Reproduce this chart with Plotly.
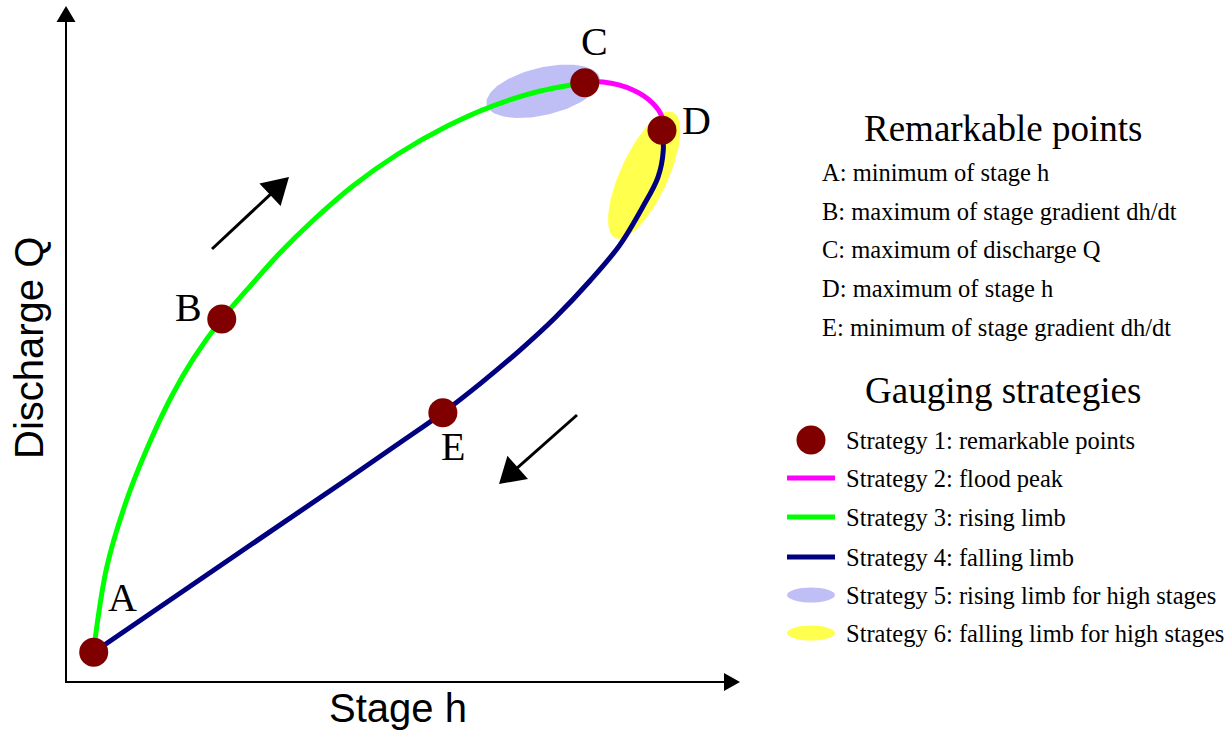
import numpy as np
import plotly.graph_objects as go

# ---------------------------------------------------------------------------
# Hysteresis loop of a rating curve (stage h vs discharge Q), arbitrary units
# ---------------------------------------------------------------------------
point_names = ["A", "B", "C", "D", "E"]
point_h = [4.2, 23.6, 78.6, 90.3, 57.1]
point_q = [4.5, 55.0, 90.8, 83.6, 40.8]

# Strategy 3: rising limb (A -> B -> C)
rising_h = [4.2, 4.4, 6.2, 9.2, 12.2, 16.0, 19.3, 23.6, 27.4, 32.4, 37.5,
            43.5, 50.3, 57.7, 64.7, 71.7, 78.6]
rising_q = [4.5, 6.4, 17.5, 27.6, 35.2, 43.3, 49.0, 55.0, 59.4, 65.0, 70.0,
            75.2, 80.0, 84.2, 87.3, 89.5, 90.8]

# Strategy 2: flood peak (C -> D)
peak_h = [78.6, 81.4, 85.9, 88.9, 90.3, 90.3]
peak_q = [90.8, 90.9, 89.7, 87.7, 85.6, 83.6]

# Strategy 4: falling limb (D -> E -> A)
falling_h = [90.3, 90.5, 89.7, 87.4, 83.9, 79.4, 74.1, 68.8, 63.0, 57.1,
             50.8, 42.7, 26.4, 4.2]
falling_q = [83.6, 80.6, 76.5, 72.0, 66.2, 60.8, 55.2, 50.3, 45.4, 40.8,
             36.4, 30.8, 19.7, 4.5]

# Strategies 5 and 6: zones around the high stages (center, semi-axes, tilt in degrees)
rising_zone = dict(h=72.3, q=89.5, a=8.8, b=3.6, angle=13.4)
falling_zone = dict(h=87.6, q=76.8, a=10.5, b=3.6, angle=65.3)

remarkable_title = "Remarkable points"
remarkable_items = [
    "A: minimum of stage h",
    "B: maximum of stage gradient dh/dt",
    "C: maximum of discharge Q",
    "D: maximum of stage h",
    "E: minimum of stage gradient dh/dt",
]
strategy_title = "Gauging strategies"
strategy_items = [
    "Strategy 1: remarkable points",
    "Strategy 2: flood peak",
    "Strategy 3: rising limb",
    "Strategy 4: falling limb",
    "Strategy 5: rising limb for high stages",
    "Strategy 6: falling limb for high stages",
]

# ---------------------------------------------------------------------------
# Styling and layout helpers
# ---------------------------------------------------------------------------
W, H = 1232, 731
UNIT = 6.6                 # pixels per data unit on both axes
ORIGIN = (66, 682)         # pixel position of (h=0, Q=0)

SERIF = "Liberation Serif"
SANS = "Liberation Sans"
GREEN = "#00ff00"
MAGENTA = "#ff00ff"
NAVY = "#000080"
MAROON = "#800000"
LAVENDER = "#bfbff6"
YELLOW = "#ffff4d"


def fx(px):
    return px / W


def fy(py):
    return 1 - py / H


def ellipse(zone, n=120):
    t = np.linspace(0, 2 * np.pi, n)
    th = np.radians(zone["angle"])
    x = zone["h"] + zone["a"] * np.cos(t) * np.cos(th) - zone["b"] * np.sin(t) * np.sin(th)
    y = zone["q"] + zone["a"] * np.cos(t) * np.sin(th) + zone["b"] * np.sin(t) * np.cos(th)
    return x, y


def arrow_shapes(x0, y0, x1, y1, lw, head_len, head_w):
    """Line plus filled triangular head, given in pixel coordinates."""
    d = np.array([x1 - x0, y1 - y0], dtype=float)
    L = np.hypot(*d)
    u = d / L
    n = np.array([-u[1], u[0]])
    base = np.array([x1, y1]) - u * head_len
    p1 = base + n * head_w / 2
    p2 = base - n * head_w / 2
    line_end = np.array([x1, y1]) - u * head_len * 0.6
    path = (f"M {fx(x1)},{fy(y1)} L {fx(p1[0])},{fy(p1[1])} "
            f"L {fx(p2[0])},{fy(p2[1])} Z")
    return [
        dict(type="line", xref="paper", yref="paper",
             x0=fx(x0), y0=fy(y0), x1=fx(line_end[0]), y1=fy(line_end[1]),
             line=dict(color="black", width=lw)),
        dict(type="path", xref="paper", yref="paper", path=path,
             fillcolor="black", line=dict(color="black", width=0)),
    ]


def text(px, py, s, size, family=SERIF, xanchor="center", angle=0):
    return dict(x=fx(px), y=fy(py), xref="paper", yref="paper", text=s,
                showarrow=False, xanchor=xanchor, yanchor="middle",
                textangle=angle,
                font=dict(family=family, size=size, color="black"))


fig = go.Figure()

# Shaded zones
for zone, color in [(rising_zone, LAVENDER), (falling_zone, YELLOW)]:
    ex, ey = ellipse(zone)
    fig.add_trace(go.Scatter(x=ex, y=ey, mode="lines", fill="toself",
                             fillcolor=color, line=dict(width=0),
                             hoverinfo="skip"))

# Limbs of the loop
for hs, qs, color in [(rising_h, rising_q, GREEN),
                      (peak_h, peak_q, MAGENTA),
                      (falling_h, falling_q, NAVY)]:
    fig.add_trace(go.Scatter(x=hs, y=qs, mode="lines",
                             line=dict(color=color, width=5, shape="spline",
                                       smoothing=1.0)))

# Remarkable points
fig.add_trace(go.Scatter(x=point_h, y=point_q, mode="markers",
                         marker=dict(size=29, color=MAROON, line=dict(width=0))))

annotations = []

# Point labels, offset in pixels from each point
label_shift = {"A": (29, 55), "B": (-33, 12), "C": (10, 41), "D": (35, 10), "E": (10, -34)}
for name, h, q in zip(point_names, point_h, point_q):
    dx, dy = label_shift[name]
    annotations.append(dict(x=h, y=q, xref="x", yref="y", text=name,
                            showarrow=False, xshift=dx, yshift=dy,
                            xanchor="center", yanchor="middle",
                            font=dict(family=SERIF, size=40, color="black")))

# Axis titles
annotations.append(text(398, 708, "Stage h", 40, family=SANS))
annotations.append(text(29, 348, "Discharge Q", 40, family=SANS, angle=-90))

# Right-hand key: remarkable points
annotations.append(text(1003, 128, remarkable_title, 37))
for txt, y in zip(remarkable_items, [172, 211, 250, 288, 327]):
    annotations.append(text(820, y, txt, 24.5, xanchor="left"))

# Right-hand key: gauging strategies
annotations.append(text(1003, 390, strategy_title, 37))
row_y = [440, 478, 517, 557, 595, 633]
for txt, y in zip(strategy_items, row_y):
    annotations.append(text(844, y, txt, 24.5, xanchor="left"))

shapes = []
# Key swatches
sw_x0, sw_x1, sw_c = 787, 835, 811
shapes.append(dict(type="circle", xref="paper", yref="paper",
                   x0=fx(sw_c - 14.5), x1=fx(sw_c + 14.5),
                   y0=fy(row_y[0] + 14.5), y1=fy(row_y[0] - 14.5),
                   fillcolor=MAROON, line=dict(width=0)))
for color, y in zip([MAGENTA, GREEN, NAVY], row_y[1:4]):
    shapes.append(dict(type="line", xref="paper", yref="paper",
                       x0=fx(sw_x0), x1=fx(sw_x1), y0=fy(y), y1=fy(y),
                       line=dict(color=color, width=5)))
for color, y in zip([LAVENDER, YELLOW], row_y[4:6]):
    shapes.append(dict(type="circle", xref="paper", yref="paper",
                       x0=fx(sw_x0), x1=fx(sw_x1), y0=fy(y + 7.5), y1=fy(y - 7.5),
                       fillcolor=color, line=dict(width=0)))

# Axes with arrow heads
shapes += arrow_shapes(ORIGIN[0], ORIGIN[1] + 1, ORIGIN[0], 6, 2, 16, 19)
shapes += arrow_shapes(ORIGIN[0] - 1, ORIGIN[1], 740, ORIGIN[1], 2, 16, 18)
# Direction of travel around the loop
shapes += arrow_shapes(212, 249, 289, 177, 3, 26, 31)
shapes += arrow_shapes(577, 415, 499, 484, 3, 25, 31)

x_range = [-ORIGIN[0] / UNIT, (W - ORIGIN[0]) / UNIT]
y_range = [-(H - ORIGIN[1]) / UNIT, ORIGIN[1] / UNIT]

fig.update_layout(
    width=W, height=H,
    margin=dict(l=0, r=0, t=0, b=0),
    paper_bgcolor="white", plot_bgcolor="white",
    showlegend=False,
    xaxis=dict(range=x_range, visible=False, fixedrange=True),
    yaxis=dict(range=y_range, visible=False, fixedrange=True),
    annotations=annotations,
    shapes=shapes,
)

fig.write_html("out.html")
